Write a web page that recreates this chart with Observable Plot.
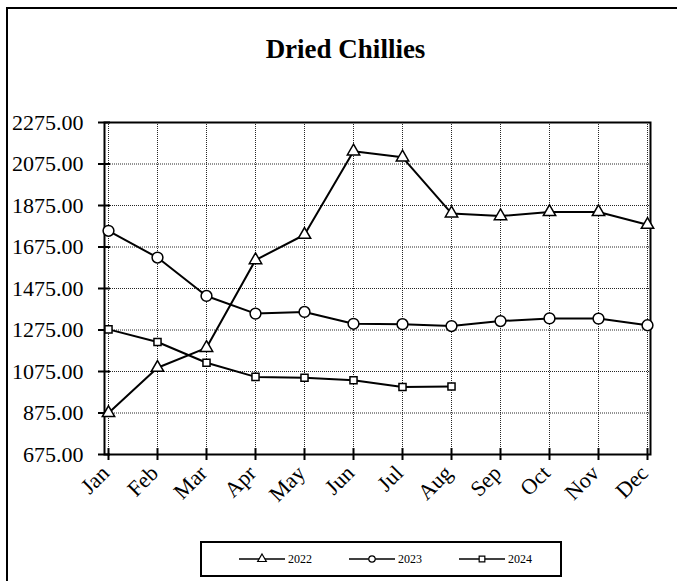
<!DOCTYPE html>
<html><head><meta charset="utf-8">
<script src="https://cdn.jsdelivr.net/npm/d3@7"></script>
<script src="https://cdn.jsdelivr.net/npm/@observablehq/plot@0.6"></script>
<style>
body{margin:0;background:#fff;}
#wrap{position:relative;width:677px;height:581px;overflow:hidden;font-family:"Liberation Serif","Times New Roman",serif;}
#frame{position:absolute;left:6px;top:7px;width:720px;height:640px;border:2px solid #000;}
#title{position:absolute;left:0;width:691px;top:33px;line-height:32px;text-align:center;font-weight:bold;font-size:27px;color:#000;font-family:"Liberation Serif","Times New Roman",serif;}
#chart{position:absolute;left:0;top:0;}
#legend{position:absolute;left:200px;top:541px;}
</style></head>
<body>
<div id="wrap">
  <div id="frame"></div>
  <div id="chart"></div>
  <div id="title">Dried Chillies</div>
  <div id="legend"></div>
</div>
<script>
const months = ["Jan","Feb","Mar","Apr","May","Jun","Jul","Aug","Sep","Oct","Nov","Dec"];
const years = ["2022","2023","2024"];
const v2022 = [875, 1093, 1189, 1612, 1734, 2136, 2107, 1837, 1824, 1844, 1844, 1782];
const v2023 = [1753, 1624, 1439, 1354, 1362, 1305, 1303, 1294, 1318, 1331, 1330, 1298];
const v2024 = [1278, 1217, 1117, 1049, 1045, 1033, 1000, 1003];
const yTicks = [675, 875, 1075, 1275, 1475, 1675, 1875, 2075, 2275];
const symbols = {"2022": "triangle", "2023": "circle", "2024": "square"};
const radii = {"2022": 4.6, "2023": 5.4, "2024": 4.0};

const series = {"2022": v2022, "2023": v2023, "2024": v2024};
const rows = [];
for (const y of years) series[y].forEach((v, i) => rows.push({year: y, month: months[i], value: v}));

const chart = Plot.plot({
  width: 677, height: 581,
  marginLeft: 104, marginRight: 27, marginTop: 122, marginBottom: 127,
  style: {fontFamily: '"Liberation Serif","Times New Roman",serif', fontSize: "22px", color: "#000", background: "transparent"},
  x: {type: "point", domain: months, padding: 0, label: null},
  y: {domain: [675, 2275], label: null},
  marks: [
    Plot.gridY(yTicks, {stroke: "#000", strokeOpacity: 0.85, strokeDasharray: "1,1"}),
    Plot.gridX(months, {stroke: "#000", strokeOpacity: 0.85, strokeDasharray: "1,1"}),
    Plot.frame({stroke: "#000", strokeWidth: 2}),
    Plot.axisY(yTicks, {tickSize: 12, dx: 6, strokeWidth: 2, tickFormat: () => "", label: null}),
    Plot.axisY(yTicks, {tickSize: 0, tickPadding: 21, tickFormat: d => d.toFixed(2), label: null, fill: "#000"}),
    Plot.axisX(months, {tickSize: 12, dy: -6, strokeWidth: 2, tickFormat: () => "", label: null}),
    Plot.axisX(months, {tickSize: 0, tickPadding: 15, dx: -3, tickRotate: -45, label: null, fill: "#000"}),
    Plot.line(rows, {x: "month", y: "value", z: "year", stroke: "#000", strokeWidth: 2}),
    ...years.map(y => Plot.dot(rows.filter(d => d.year === y), {
      x: "month", y: "value", symbol: symbols[y], r: radii[y],
      fill: "#fff", stroke: "#000", strokeWidth: 1.5
    }))
  ]
});
document.getElementById("chart").appendChild(chart);

// legend
const lw = 362, lh = 36;
const lsvg = d3.select("#legend").append("svg").attr("width", lw).attr("height", lh);
lsvg.append("rect").attr("x", 1).attr("y", 1).attr("width", lw - 2).attr("height", lh - 2)
  .attr("fill", "#fff").attr("stroke", "#000").attr("stroke-width", 2);
const legX = [39, 149, 259];
years.forEach((y, i) => {
  const g = lsvg.append("g").attr("transform", `translate(${legX[i]},${18})`);
  g.append("line").attr("x1", 0).attr("x2", 46).attr("stroke", "#000").attr("stroke-width", 1.5);
  const sym = {triangle: d3.symbolTriangle, circle: d3.symbolCircle, square: d3.symbolSquare}[symbols[y]];
  g.append("path").attr("d", d3.symbol(sym, Math.PI * 3.2 * 3.2)()).attr("transform", "translate(23,0)")
    .attr("fill", "#fff").attr("stroke", "#000").attr("stroke-width", 1.2);
  g.append("text").attr("x", 49).attr("y", 4).attr("font-size", 12)
    .attr("font-family", '"Liberation Serif","Times New Roman",serif').text(y);
});
</script>
</body></html>
